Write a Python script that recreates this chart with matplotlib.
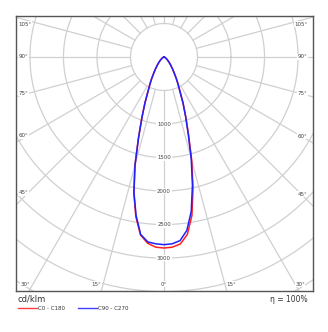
import numpy as np
import matplotlib.pyplot as plt

# angulos gamma (grados desde el nadir) e intensidades en cd/klm
gamma = [0, 2.5, 5, 7.5, 10, 12.5, 15, 17.5, 20, 22.5, 25, 27.5, 30,
         35, 40, 45, 50, 55, 60, 70, 80, 90]
c0 = [2850, 2840, 2800, 2670, 2400, 2000, 1600, 1220, 950, 740, 560, 450, 360,
      230, 150, 100, 65, 40, 25, 10, 4, 0]
c180 = [2850, 2840, 2790, 2680, 2420, 2080, 1680, 1270, 970, 750, 570, 455, 365,
        235, 150, 100, 65, 40, 25, 10, 4, 0]
c90 = [2800, 2790, 2750, 2610, 2340, 1960, 1570, 1200, 940, 740, 560, 450, 360,
       230, 150, 100, 65, 40, 25, 10, 4, 0]
c270 = [2800, 2790, 2770, 2670, 2400, 2070, 1670, 1260, 960, 740, 560, 450, 360,
        230, 150, 100, 65, 40, 25, 10, 4, 0]

anillos = [500, 1000, 1500, 2000, 2500, 3000, 3500, 4000, 4500]
etiq_anillos = [1000, 1500, 2000, 2500, 3000]
angulos_lado = [45, 60, 75, 90, 105]
angulos_base = [-30, -15, 0, 15, 30]

W, H = 328, 332
fig = plt.figure(figsize=(W / 100, H / 100), dpi=100)
ax = fig.add_axes([16 / W, (H - 291) / H, 297 / W, 275 / H])

esc = 14.92  # cd por pixel
xmin, xmax = -148 * esc, 149 * esc
ymin, ymax = -234 * esc, 41 * esc
ax.set_xlim(xmin, xmax)
ax.set_ylim(ymin, ymax)
ax.set_aspect('equal')
ax.set_xticks([])
ax.set_yticks([])
for s in ax.spines.values():
    s.set_color('#555555')
    s.set_linewidth(1.0)

gris = '#d0d0d0'
t = np.linspace(0, 2 * np.pi, 400)
for r in anillos:
    ax.plot(r * np.cos(t), r * np.sin(t), color=gris, lw=0.9, zorder=1)
for a in range(0, 360, 15):
    ar = np.radians(a)
    ax.plot([500 * np.sin(ar), 6000 * np.sin(ar)],
            [-500 * np.cos(ar), -6000 * np.cos(ar)], color=gris, lw=0.9, zorder=1)

# etiquetas de los anillos sobre el eje 0
for r in etiq_anillos:
    ax.text(0, -r, str(r), fontsize=3.9, color='#444444', ha='center', va='center',
            bbox=dict(boxstyle='square,pad=0.15', fc='white', ec='none'), zorder=2)

# etiquetas de angulos en los laterales
dx_in = 12 * esc
for a in angulos_lado:
    ar = np.radians(a)
    for lado in (-1, 1):
        x = lado * (abs(xmin if lado < 0 else xmax) - dx_in)
        y = -abs(x) / np.tan(ar) if a != 90 else 0
        if a > 90:
            y = abs(x) * np.tan(ar - np.pi / 2)
        y = min(y, ymax - 8 * esc)
        xt = xmin + 2.5 * esc if lado < 0 else xmax - 5.5 * esc
        ax.text(xt, y, f'{a}°', fontsize=4.0, color='#444444',
                ha='left' if lado < 0 else 'right', va='center',
                bbox=dict(boxstyle='square,pad=0.1', fc='white', ec='none'), zorder=2)

# etiquetas de angulos en la base
yb = ymin + 7 * esc
for a in angulos_base:
    ar = np.radians(a)
    x = -ymin * np.tan(ar)
    ha = 'center' if a == 0 else ('right' if a < 0 else 'left')
    if abs(a) == 30:
        ha = 'center'
        x = xmin + 9 * esc if a < 0 else xmax - 13 * esc
    ax.text(x, yb, f'{abs(a)}°', fontsize=4.0, color='#444444', ha=ha, va='center',
            bbox=dict(boxstyle='square,pad=0.1', fc='white', ec='none'), zorder=2)


def curva(der, izq):
    g = np.radians(np.array(gamma))
    xd = np.array(der) * np.sin(g)
    yd = -np.array(der) * np.cos(g)
    xi = -np.array(izq) * np.sin(g)
    yi = -np.array(izq) * np.cos(g)
    return np.concatenate([xi[::-1], xd]), np.concatenate([yi[::-1], yd])


xr, yr = curva(c0, c180)
xb, yb2 = curva(c90, c270)
ax.plot(xr, yr, color='#ff2020', lw=1.1, zorder=3)
ax.plot(xb, yb2, color='#2020ff', lw=1.1, zorder=4)

# textos inferiores
fig.text(18 / W, 1 - 299 / H, 'cd/klm', fontsize=6, color='#333333', va='center')
fig.text(308 / W, 1 - 299 / H, 'η = 100%', fontsize=5.5, color='#333333',
         va='center', ha='right')
fig.add_artist(plt.Line2D([18 / W, 37 / W], [1 - 308 / H] * 2, color='#ff4040', lw=1.0))
fig.text(38 / W, 1 - 308 / H, 'C0 - C180', fontsize=4.0, color='#333333', va='center')
fig.add_artist(plt.Line2D([78 / W, 97 / W], [1 - 308 / H] * 2, color='#4040ff', lw=1.0))
fig.text(98 / W, 1 - 308 / H, 'C90 - C270', fontsize=4.0, color='#333333', va='center')

fig.savefig('out.png', dpi=100)
